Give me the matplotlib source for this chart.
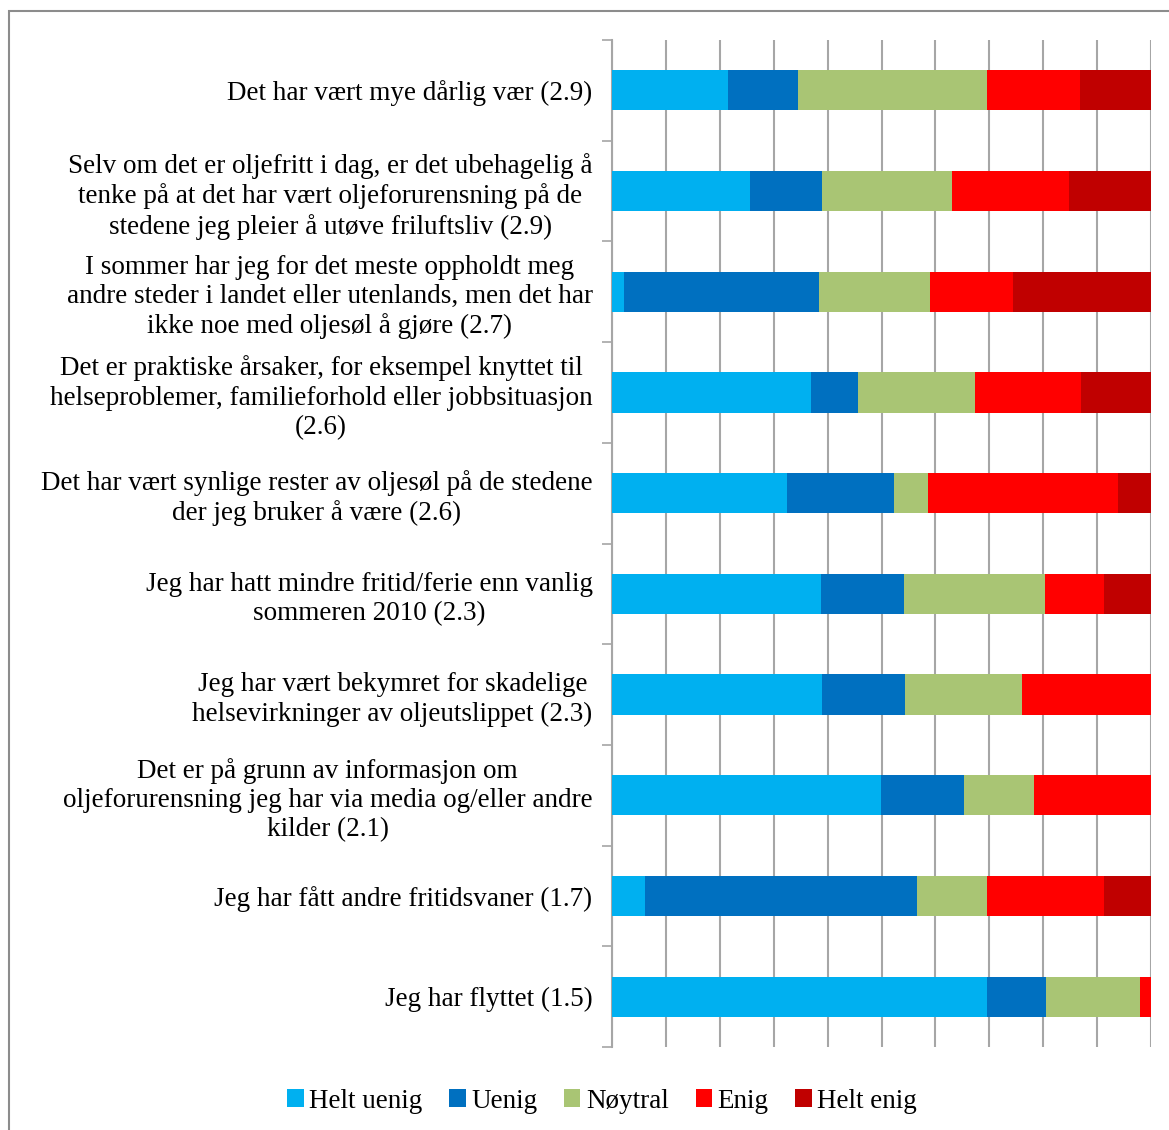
import numpy as np
import matplotlib
matplotlib.use("Agg")
import matplotlib.pyplot as plt
from matplotlib.patches import Rectangle

categories = [
    "Det har vært mye dårlig vær (2.9)",
    "Selv om det er oljefritt i dag, er det ubehagelig å\ntenke på at det har vært oljeforurensning på de\nstedene jeg pleier å utøve friluftsliv (2.9)",
    "I sommer har jeg for det meste oppholdt meg\nandre steder i landet eller utenlands, men det har\nikke noe med oljesøl å gjøre (2.7)",
    "Det er praktiske årsaker, for eksempel knyttet til\nhelseproblemer, familieforhold eller jobbsituasjon\n(2.6)",
    "Det har vært synlige rester av oljesøl på de stedene\nder jeg bruker å være (2.6)",
    "Jeg har hatt mindre fritid/ferie enn vanlig\nsommeren 2010 (2.3)",
    "Jeg har vært bekymret for skadelige\nhelsevirkninger av oljeutslippet (2.3)",
    "Det er på grunn av informasjon om\noljeforurensning jeg har via media og/eller andre\nkilder (2.1)",
    "Jeg har fått andre fritidsvaner (1.7)",
    "Jeg har flyttet (1.5)",
]

series = ["Helt uenig", "Uenig", "Nøytral", "Enig", "Helt enig"]

helt_uenig = [21.5, 25.6, 2.2, 36.9, 32.5, 38.8, 39.0, 49.9, 6.1, 69.6]
uenig      = [13.0, 13.4, 36.2, 8.7, 19.9, 15.4, 15.4, 15.4, 50.5, 10.9]
noytral    = [35.0, 24.1, 20.6, 21.7, 6.3, 26.2, 21.7, 13.0, 13.0, 17.4]
enig       = [17.4, 21.7, 15.4, 19.7, 35.1, 10.9, 23.9, 21.7, 21.7, 2.1]
helt_enig  = [13.1, 15.2, 25.6, 13.0, 6.2, 8.7, 0.0, 0.0, 8.7, 0.0]

colors = ["#00B0F0", "#0070C0", "#A9C574", "#FF0000", "#C00000"]

plt.rcParams['font.family'] = ['Liberation Serif', 'DejaVu Serif']

fig = plt.figure(figsize=(11.69, 11.30), dpi=100)
ax = fig.add_axes([612 / 1169, 1 - 1047 / 1130, 539 / 1169, 1007 / 1130])

data = np.array([helt_uenig, uenig, noytral, enig, helt_enig])
data = data / data.sum(axis=0) * 100
y = np.arange(len(categories))
left = np.zeros(len(categories))
for vals, name, col in zip(data, series, colors):
    ax.barh(y, vals, left=left, height=0.4, color=col, label=name, zorder=3)
    left += vals

ax.set_xlim(0, 100)
ax.set_ylim(len(categories) - 0.5, -0.5)
ax.set_xticks(np.arange(0, 101, 10))
ax.tick_params(axis='x', length=0, labelbottom=False)
ax.grid(axis='x', color='#A6A6A6', linewidth=1.5, zorder=0)

ax.set_yticks(y)
ax.set_yticklabels(categories, fontsize=19.5, linespacing=1.22)
for lbl in ax.get_yticklabels():
    lbl.set_multialignment('center')
ax.tick_params(axis='y', which='major', length=0, pad=14)
ax.set_yticks(np.arange(-0.5, len(categories), 1), minor=True)
ax.tick_params(axis='y', which='minor', length=7, width=1.2, color='#A6A6A6')

for s in ['top', 'right', 'bottom']:
    ax.spines[s].set_visible(False)
ax.spines['left'].set_color('#A6A6A6')
ax.spines['left'].set_linewidth(1.5)

fig.legend(loc='center', bbox_to_anchor=(0.515, 1 - 1101 / 1130), ncol=5,
           frameon=False, fontsize=19.5, handlelength=0.6, handleheight=0.6,
           handletextpad=0.2, columnspacing=1.0)

fig.patches.append(Rectangle((9 / 1169, -0.05), 1.1, 1 - 11 / 1130 + 0.05,
                             transform=fig.transFigure, fill=False,
                             edgecolor='#8C8C8C', linewidth=1.5))

fig.savefig("out.png", dpi=100)
